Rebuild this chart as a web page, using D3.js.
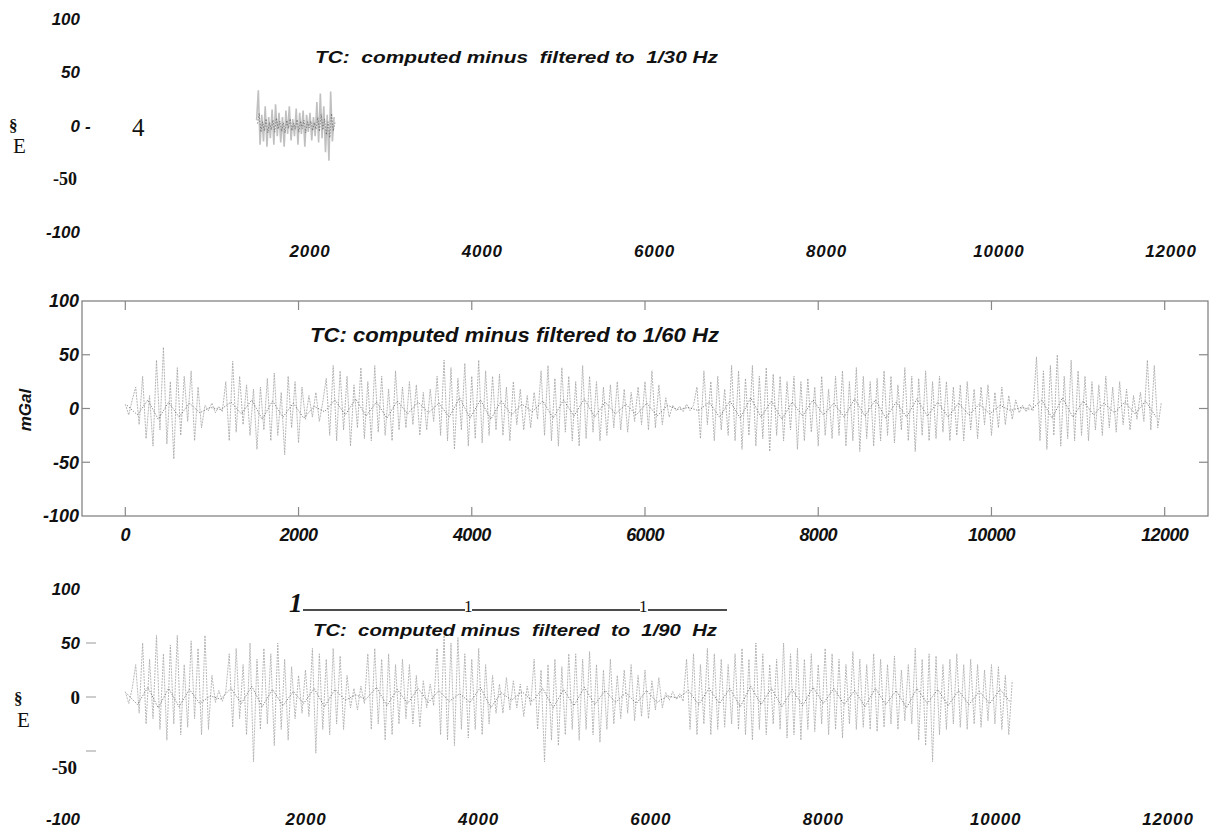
<!DOCTYPE html>
<html>
<head>
<meta charset="utf-8">
<script src="https://cdn.jsdelivr.net/npm/d3@7"></script>
<style>
  body { margin: 0; background: #fff; }
  svg { display: block; }
  .lab { font-family: "Liberation Sans", Arial, sans-serif; font-weight: bold; font-style: italic; fill: #111; }
  .serif { font-family: "Liberation Serif", "Times New Roman", serif; fill: #111; }
</style>
</head>
<body>
<svg id="chart" width="1211" height="830"></svg>
<script>
// tick labels
let yTickLabels = [100, 50, 0, -50, -100];
let xTickLabels = [2000, 4000, 6000, 8000, 10000, 12000];
let xTickLabelsMid = [0, 2000, 4000, 6000, 8000, 10000, 12000];
let yTicksMid = [50, 0, -50];

let titles = [
  "TC:  computed minus  filtered to  1/30 Hz",
  "TC: computed minus filtered to 1/60 Hz",
  "TC:  computed minus  filtered  to  1/90  Hz"
];

// top panel: only a scrap of the 1/30 Hz trace survived (x from 1380, step 20)
let start30 = 1380;
let step30 = 20;
let tc30 = [5, 33, -18, 10, -15, 18, -20, 8, -12, 15, -18, 20, -10, 12, -16, 8, -20, 14, -8, 18,
  -14, 6, -10, 16, -18, 12, -8, 14, -20, 10, -6, 12, -14, 8, -10, 22, -16, 30, -12, 18,
  -25, 10, -33, 32, -15, 8];

// middle panel, 1/60 Hz, one value every 40 samples
let step60 = 40;
let tc60 = [4, -6, 8,
  20, -15, 30, -28, 12, -35, 45, -20, 57, -33, 25, -47, 38, -25, 30,
  -12, 35, -30, 20, -18,
  3, -2, 5, -4, 2, -3,
  25, -30, 44, -22, 30,
  -15, 22, -25, 18, -38, 20,
  -20, 28, -30, 33, -25, 15, -43, 30, -18, 25, -32, 20, -10,
  12, -8, 15, -12, 6,
  28, -25, 40, -30, 35, -20, 30, -35, 22, -18,
  38, -28, 25, -30, 40, -22, 30, -25, 18, -30, 35, -20,
  20, -18, 25, -15, 22, -25, 15, -20, 18, -12,
  30, -25, 45, -30, 38, -38, 28, -20, 42, -35, 30, -28, 45, -32, 35, -25, 30, -20,
  32, -25, 20, -30, 25,
  -15, 18, -20, 12, -18, 15, -10,
  35, -25, 40, -30, 28, -35, 38, -22, 30, -30, 25, -35, 40, -28, 30, -22, 25, -30,
  20, -25, 22, -18, 25, -20, 18, -22, 15, -12, 20, -15,
  25, -20, 35, -18, 22, -15, 10, -8,
  3, -2, 2, -3, 4, -2, 3,
  20, -28, 35, -15, 25, -30, 30, -20, 18, -25,
  40, -30, 35, -38, 28, -25, 40, -35, 30, -28, 38, -40, 32, -25, 30, -30, 25, -20,
  30, -38, 25, -30, 28, -22, 20, -35, 30, -25, 18, -28,
  30, -25, 35, -35, 25, -30, 38, -40, 30, -28, 25, -35, 28, -30, 35, -25, 30, -32, 22, -20,
  38, -30, 30, -40, 28, -25, 35, -30, 25, -28, 30, -22, 25, -30, 20,
  -25, 22, -30, 25, -20, 18, -28, 20, -15, 22, -25, 15, -18, 20, -15, 12, -10, 8,
  -4, 3, -3, 4, -2,
  48, -30, 35, -38, 40, -25, 50, -35, 30, -28, 45, -30,
  35, -25, 30, -30, 25, -20, 22, -25, 30, -18, 20, -22, 25, -15, 18, -20, 12, -10, 15, -12, 45, -20, 40, -18, 5];

// darker core of the 1/60 Hz trace, one value every 120 samples
let coreStep = 120;
let core60 = [3, -6, 8, -10, 6, -8, 5, -4, 1, -1, 6, -5, 8, -10, 7, -8, 5, -9, 2, -3,
  8, -6, 9, -7, 6, -9, 7, -5, 6, -4, 5, -8, 10, -9, 8, -10, 7, -6, 4, -3,
  7, -9, 8, -7, 9, -8, 6, -5, 4, -6, 5, -7, 3, -1, 1, -2, 6, -8, 7, -9,
  10, -8, 7, -10, 6, -7, 8, -6, 5, -8, 9, -7, 8, -9, 6, -8, 9, -7, 6, -8,
  5, -6, 4, -5, 3, -2, 1, -1, 8, -9, 10, -8, 7, -6, 5, -4, 6, -5, 7, -8];

// bottom panel, 1/90 Hz, one value every 40 samples
let step90 = 40;
let tc90 = [5, -6, 8,
  30, -15, 50, -25, 35,
  -20, 57, -30, 40, -40, 48, -25, 57, -35, 30, -28, 52, -20, 45,
  -35, 57, -30, 20,
  -5, 6, -4, 5,
  40, -28, 45, -20, 30,
  -35, 50, -60, 35, -30, 45, -25, 40,
  -45, 50, -30, 35, -40, 28, -20,
  20, -15, 25, -18,
  45, -52, 40, -30, 35, -35, 45, -25, 38, -30, 20,
  -10, 8, -12, 10, -6,
  40, -30, 45, -25, 35, -40, 40, -35, 30, -25, 35,
  -20, 30, -25, 20, -28, 15, -10, 12, -8,
  45, -35, 57, -40, 50, -45, 55, -30, 40, -38, 35, -30, 45, -35, 30, -25, 20, -15,
  12, -15, 18, -12, 15, -10, 12, -18, 10, -8,
  35, -30, 25, -60, 30, -40, 35, -45, 28, -35, 40, -30,
  40, -40, 35, -30, 42, -35, 30, -42, 25, -30, 35, -25, 20,
  -20, 25, -15, 30, -22, 20, -18, 25, -20, 15, -12, 18, -10,
  4, -3, 5, -2, 3, -4,
  35, -30, 40, -35, 30, -25, 45, -35, 40, -30, 35, -28, 30, -25,
  40, -30, 45, -35, 35, -40, 50, -30, 40, -35, 30, -25, 35,
  -30, 50, -38, 40, -35, 45, -40, 35, -30, 40, -32, 30, -25,
  45, -35, 40, -30, 35, -38, 30, -25, 42, -30, 35, -28, 30,
  -30, 40, -32, 35, -28, 30, -25, 38, -30, 25, -22, 30, -25,
  45, -40, 35, -45, 40, -60, 38, -35, 30, -30, 35, -25, 40, -28, 30,
  -30, 35, -25, 30, -28, 25, -22, 30, -25, 28, -30, 20, -35, 15];

let core90 = [3, -7, 9, -10, 8, -9, 7, -6, 1, -2,
  8, -6, 10, -9, 7, -8, 5, -6, 8, -9,
  7, -3, 2, -2, 9, -8, 7, -6, 8, -5,
  6, -4, 3, -5, 9, -10, 4, -3, 5, -4,
  8, -10, 7, -8, 9, -7, 6, -5, 4, -6,
  6, -5, 1, -1, 6, -7, 8, -6, 8, -9,
  10, -7, 8, -9, 7, -8, 9, -6, 8, -7,
  6, -9, 8, -7, 6, -10, 8, -6, 7, -8,
  6, -7, 5, -6, 7, -5];

let svg = d3.select("#chart");

// light trace = the full signal, dark trace = the dotted core near zero
function drawTrace(g, values, x0, step, xs, ys, color, width, opacity, dash){
  let line = d3.line()
    .x((d, i) => xs(x0 + i * step))
    .y(d => ys(d));
  g.append("path")
    .datum(values)
    .attr("d", line)
    .attr("fill", "none")
    .attr("stroke", color)
    .attr("stroke-width", width)
    .attr("stroke-opacity", opacity)
    .attr("stroke-dasharray", dash);
}

//---------- top panel (1/30 Hz) ----------
let xA = d3.scaleLinear().domain([2000, 12000]).range([310, 1171]);
let yA = d3.scaleLinear().domain([-100, 100]).range([232, 19]);
let gA = svg.append("g");

gA.selectAll("text.yl")
  .data(yTickLabels)
  .join("text")
  .attr("class", d => d == -50 ? "serif" : "lab")
  .attr("x", d => d == -50 ? 77 : 80)
  .attr("y", d => yA(d))
  .attr("dy", "0.36em")
  .attr("text-anchor", "end")
  .attr("font-weight", "bold")
  .attr("font-size", d => d == -50 ? 18 : 17)
  .text(d => d);
gA.append("text").attr("class", "lab").attr("x", 85).attr("y", yA(0)).attr("dy", "0.36em")
  .attr("font-size", 17).text("-");
gA.append("text").attr("class", "serif").attr("x", 132).attr("y", yA(0)).attr("dy", "0.42em")
  .attr("font-size", 25).text("4");
gA.append("text").attr("class", "serif").attr("x", 9).attr("y", 131)
  .attr("font-size", 17).attr("font-weight", "bold").text("§");
gA.append("text").attr("class", "serif").attr("x", 13).attr("y", 153)
  .attr("font-size", 21).text("E");

gA.selectAll("text.xl")
  .data(xTickLabels)
  .join("text")
  .attr("class", "lab")
  .attr("x", d => xA(d))
  .attr("y", 251)
  .attr("dy", "0.36em")
  .attr("text-anchor", "middle")
  .attr("font-size", 17)
  .attr("letter-spacing", 0.8)
  .text(d => d);

gA.append("text").attr("class", "lab")
  .attr("x", 315).attr("y", 63)
  .attr("font-size", 17)
  .attr("textLength", 403).attr("lengthAdjust", "spacingAndGlyphs")
  .style("white-space", "pre")
  .text(titles[0]);

drawTrace(gA, tc30, start30, step30, xA, yA, "#b0b0b0", 1.6, 0.8, null);
drawTrace(gA, tc30, start30 + step30 / 2, step30, xA, d => yA(d * 0.35), "#555", 1, 0.6, "1.5,1.5");

//---------- middle panel (1/60 Hz) ----------
let xB = d3.scaleLinear().domain([-500, 12500]).range([82, 1208]);
let yB = d3.scaleLinear().domain([-100, 100]).range([516, 301]);
let gB = svg.append("g");

gB.append("rect")
  .attr("x", xB(-500)).attr("y", yB(100))
  .attr("width", xB(12500) - xB(-500)).attr("height", yB(-100) - yB(100))
  .attr("fill", "none").attr("stroke", "#7a7a7a").attr("stroke-width", 1.2);

// inward ticks, matlab style
gB.selectAll("line.xt")
  .data(xTickLabelsMid.flatMap(v => [[v, 100], [v, -100]]))
  .join("line")
  .attr("x1", d => xB(d[0])).attr("x2", d => xB(d[0]))
  .attr("y1", d => yB(d[1])).attr("y2", d => yB(d[1]) + (d[1] > 0 ? 9 : -9))
  .attr("stroke", "#888").attr("stroke-width", 1.2);
gB.selectAll("line.yt")
  .data(yTicksMid.flatMap(v => [[-500, v], [12500, v]]))
  .join("line")
  .attr("x1", d => xB(d[0])).attr("x2", d => xB(d[0]) + (d[0] < 0 ? 8 : -9))
  .attr("y1", d => yB(d[1])).attr("y2", d => yB(d[1]))
  .attr("stroke", "#888").attr("stroke-width", 1.2);

drawTrace(gB, tc60, 0, step60, xB, yB, "#a4a4a4", 0.9, 0.9, "2,1");
drawTrace(gB, core60, 20, coreStep, xB, yB, "#5a5a5a", 1, 0.75, "1.2,1.6");

gB.selectAll("text.yl")
  .data(yTickLabels)
  .join("text")
  .attr("class", "lab")
  .attr("x", 79)
  .attr("y", d => yB(d))
  .attr("dy", "0.36em")
  .attr("text-anchor", "end")
  .attr("font-size", 18)
  .attr("fill", "#222")
  .text(d => d);

gB.selectAll("text.xl")
  .data(xTickLabelsMid)
  .join("text")
  .attr("class", "lab")
  .attr("x", d => xB(d))
  .attr("y", 535)
  .attr("dy", "0.36em")
  .attr("text-anchor", "middle")
  .attr("font-size", 18)
  .attr("letter-spacing", -0.6)
  .text(d => d);

gB.append("text").attr("class", "lab")
  .attr("transform", "translate(31,410) rotate(-90)")
  .attr("text-anchor", "middle")
  .attr("font-size", 17)
  .text("mGal");

gB.append("text").attr("class", "lab")
  .attr("x", 310).attr("y", 342)
  .attr("font-size", 20)
  .attr("textLength", 409).attr("lengthAdjust", "spacingAndGlyphs")
  .text(titles[1]);

//---------- bottom panel (1/90 Hz) ----------
let xC = d3.scaleLinear().domain([2000, 12000]).range([306, 1168]);
let yC = d3.scaleLinear().domain([-100, 100]).range([805, 589]);
let gC = svg.append("g");

// scanned labels: the two lowest ones sit lower than their ticks
let labelShift = {100: 0, 50: 0, 0: 0, "-50": 16, "-100": 14};
gC.selectAll("text.yl")
  .data(yTickLabels)
  .join("text")
  .attr("class", d => (d == 0 || d == -50) ? "serif" : "lab")
  .attr("x", d => d == -50 ? 77 : 80)
  .attr("y", d => yC(d) + labelShift[d])
  .attr("dy", "0.36em")
  .attr("text-anchor", "end")
  .attr("font-weight", "bold")
  .attr("font-size", d => (d == 0 || d == -50) ? 19 : 17)
  .text(d => d);

gC.selectAll("line.yt")
  .data(yTicksMid)
  .join("line")
  .attr("x1", 86).attr("x2", 96)
  .attr("y1", d => yC(d)).attr("y2", d => yC(d))
  .attr("stroke", "#bbb").attr("stroke-width", 1.5);

gC.append("text").attr("class", "serif").attr("x", 14).attr("y", 704)
  .attr("font-size", 17).attr("font-weight", "bold").text("§");
gC.append("text").attr("class", "serif").attr("x", 17).attr("y", 727)
  .attr("font-size", 21).text("E");

// stray OCR line above the title
let gLine = gC.append("g");
gLine.append("text").attr("class", "serif").attr("x", 289).attr("y", 612)
  .attr("font-size", 27).attr("font-weight", "bold").attr("font-style", "italic").text("1");
gLine.append("text").attr("class", "serif").attr("x", 464).attr("y", 612)
  .attr("font-size", 17).text("1");
gLine.append("text").attr("class", "serif").attr("x", 639).attr("y", 612)
  .attr("font-size", 17).text("1");
gLine.selectAll("line")
  .data([[303, 465], [472, 640], [648, 727]])
  .join("line")
  .attr("x1", d => d[0]).attr("x2", d => d[1])
  .attr("y1", 610).attr("y2", 610)
  .attr("stroke", "#111").attr("stroke-width", 1.3);

gC.append("text").attr("class", "lab")
  .attr("x", 313).attr("y", 636)
  .attr("font-size", 17)
  .attr("textLength", 404).attr("lengthAdjust", "spacingAndGlyphs")
  .style("white-space", "pre")
  .text(titles[2]);

drawTrace(gC, tc90, 0, step90, xB, yC, "#a8a8a8", 0.9, 0.9, "2,1");
drawTrace(gC, core90, 20, coreStep, xB, yC, "#5a5a5a", 1, 0.75, "1.2,1.6");

gC.selectAll("text.xl")
  .data(xTickLabels)
  .join("text")
  .attr("class", "lab")
  .attr("x", d => xC(d))
  .attr("y", 819)
  .attr("dy", "0.36em")
  .attr("text-anchor", "middle")
  .attr("font-size", 17)
  .attr("letter-spacing", 0.8)
  .text(d => d);
</script>
</body>
</html>
